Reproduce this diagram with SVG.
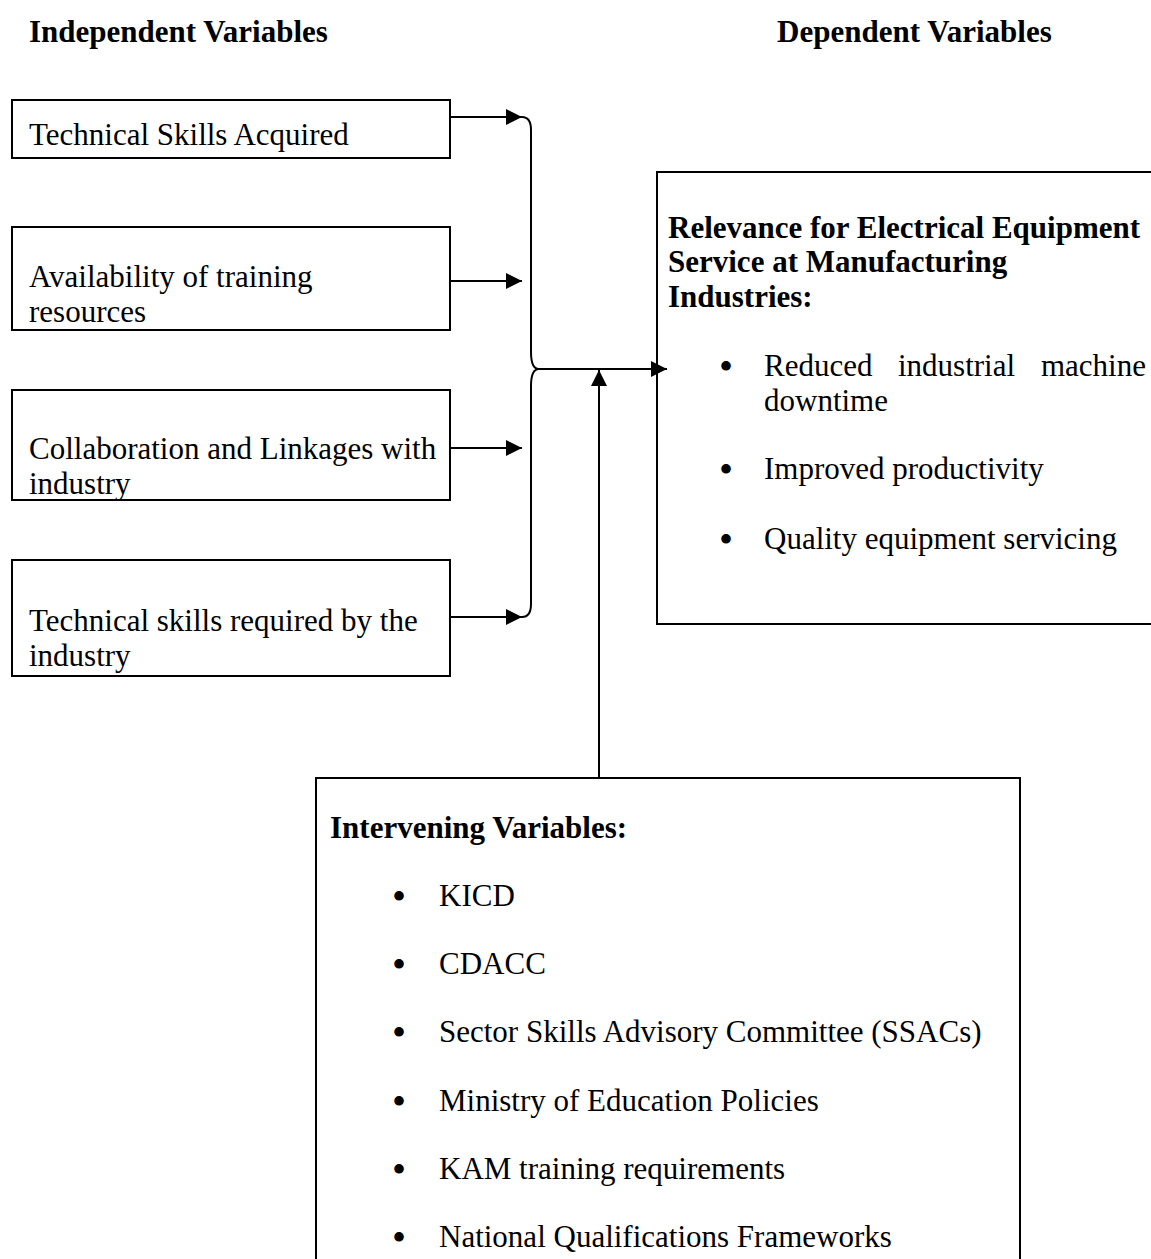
<svg xmlns="http://www.w3.org/2000/svg" width="1151" height="1259" viewBox="0 0 1151 1259">
<defs>
<style>
text{font-family:"Liberation Serif","Times New Roman",serif;font-size:31px;fill:#000}
.b{font-weight:bold}
.bu{font-size:40px;text-anchor:middle}
.box{fill:#fff;stroke:#000;stroke-width:2}
.ln{fill:none;stroke:#000;stroke-width:2}
</style>
<marker id="ah" viewBox="0 0 10 10" refX="10" refY="5" markerWidth="16" markerHeight="16" markerUnits="userSpaceOnUse" orient="auto">
<path d="M0,0 L10,5 L0,10 Z" fill="#000"/>
</marker>
</defs>
<rect width="1151" height="1259" fill="#fff"/>
<text class="b" x="29" y="42">Independent Variables</text>
<text class="b" x="777" y="42">Dependent Variables</text>

<g id="iv1"><rect class="box" x="12" y="100" width="438" height="58"/><text x="29" y="145">Technical Skills Acquired</text></g>
<g id="iv2"><rect class="box" x="12" y="227" width="438" height="103"/><text x="29" y="287">Availability of training</text><text x="29" y="322">resources</text></g>
<g id="iv3"><rect class="box" x="12" y="390" width="438" height="110"/><text x="29" y="459">Collaboration and Linkages with</text><text x="29" y="494">industry</text></g>
<g id="iv4"><rect class="box" x="12" y="560" width="438" height="116"/><text x="29" y="631">Technical skills required by the</text><text x="29" y="666">industry</text></g>

<g id="dv"><rect class="box" x="657" y="172" width="510" height="452"/>
<text class="b" x="668" y="238">Relevance for Electrical Equipment</text>
<text class="b" x="668" y="272">Service at Manufacturing</text>
<text class="b" x="668" y="307">Industries:</text>
<text class="bu" x="726" y="380">•</text><text y="376"><tspan x="764">Reduced</tspan><tspan x="898">industrial</tspan><tspan x="1146" text-anchor="end">machine</tspan></text>
<text x="764" y="411">downtime</text>
<text class="bu" x="726" y="483">•</text><text x="764" y="479">Improved productivity</text>
<text class="bu" x="726" y="553">•</text><text x="764" y="549">Quality equipment servicing</text>
</g>

<g id="inter"><rect class="box" x="316" y="778" width="704" height="500"/>
<text class="b" x="330" y="838">Intervening Variables:</text>
<text class="bu" x="399" y="910">•</text><text x="439" y="906">KICD</text>
<text class="bu" x="399" y="978">•</text><text x="439" y="974">CDACC</text>
<text class="bu" x="399" y="1046">•</text><text x="439" y="1042">Sector Skills Advisory Committee (SSACs)</text>
<text class="bu" x="399" y="1115">•</text><text x="439" y="1111">Ministry of Education Policies</text>
<text class="bu" x="399" y="1183">•</text><text x="439" y="1179">KAM training requirements</text>
<text class="bu" x="399" y="1251">•</text><text x="439" y="1247">National Qualifications Frameworks</text>
</g>

<g id="connectors">
<line class="ln" x1="450" y1="117" x2="522" y2="117" marker-end="url(#ah)"/>
<line class="ln" x1="450" y1="281" x2="522" y2="281" marker-end="url(#ah)"/>
<line class="ln" x1="450" y1="448" x2="522" y2="448" marker-end="url(#ah)"/>
<line class="ln" x1="450" y1="617" x2="522" y2="617" marker-end="url(#ah)"/>
<path class="ln" d="M522,117 Q531,117 531,130 L531,352 Q531,369 539,369 Q531,369 531,386 L531,604 Q531,617 522,617"/>
<line class="ln" x1="539" y1="369" x2="667" y2="369" marker-end="url(#ah)"/>
<line class="ln" x1="599" y1="778" x2="599" y2="370" marker-end="url(#ah)"/>
</g>
</svg>
